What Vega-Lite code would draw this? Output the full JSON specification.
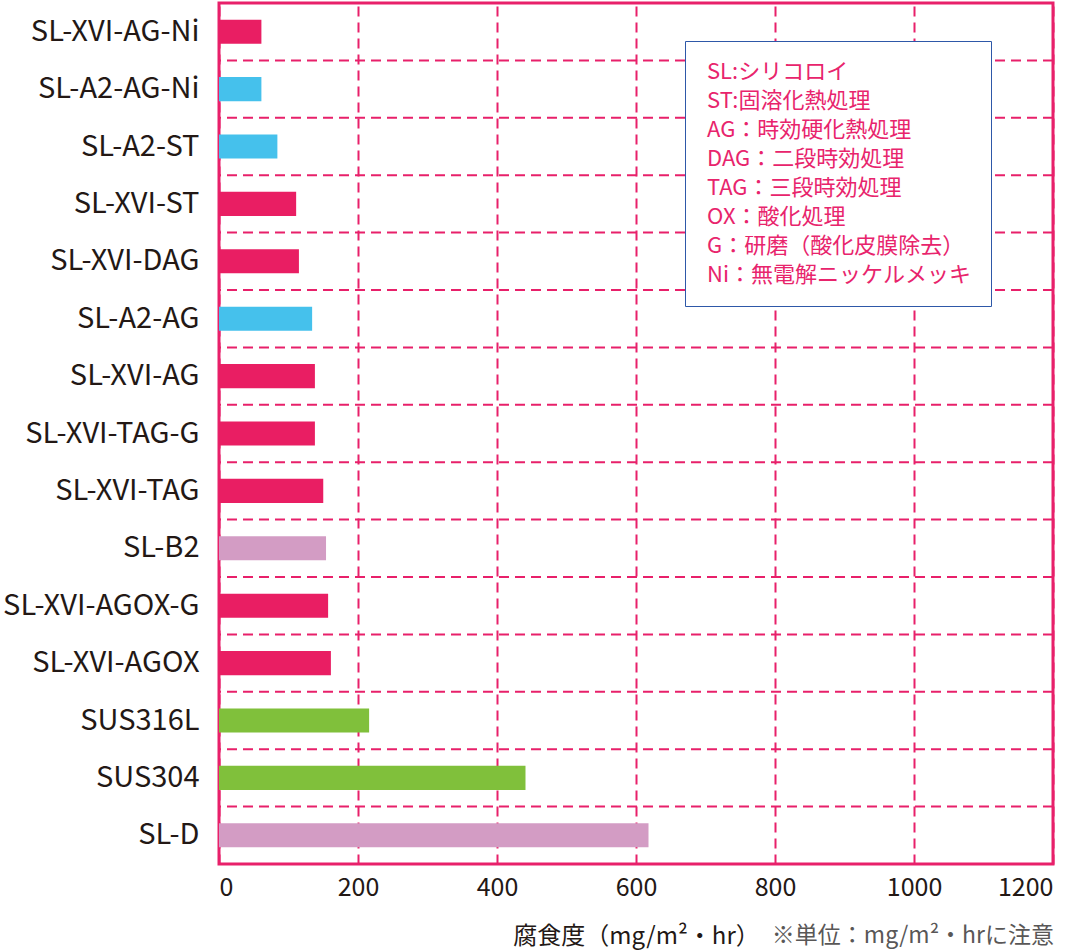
{
  "$schema": "https://vega.github.io/schema/vega-lite/v6.json",
  "width": 834,
  "height": 861,
  "autosize": {"type": "none"},
  "padding": {"left": 219, "top": 3, "right": 28, "bottom": 87},
  "background": "white",
  "config": {
    "font": "Noto Sans CJK JP",
    "view": {"stroke": "#e8206a", "strokeWidth": 3},
    "axis": {"labelColor": "#231815", "titleColor": "#231815", "labelFont": "Noto Sans CJK JP", "titleFont": "Noto Sans CJK JP"}
  },
  "title": {
    "text": "※単位：mg/m²・hrに注意",
    "orient": "bottom",
    "anchor": "end",
    "fontSize": 23,
    "fontWeight": "normal",
    "color": "#595757",
    "offset": -23
  },
  "datasets": {
    "bars": [
      {"name": "SL-XVI-AG-Ni", "group": "XVI", "rate": 61},
      {"name": "SL-A2-AG-Ni", "group": "A2", "rate": 61},
      {"name": "SL-A2-ST", "group": "A2", "rate": 84},
      {"name": "SL-XVI-ST", "group": "XVI", "rate": 111},
      {"name": "SL-XVI-DAG", "group": "XVI", "rate": 115},
      {"name": "SL-A2-AG", "group": "A2", "rate": 134},
      {"name": "SL-XVI-AG", "group": "XVI", "rate": 138},
      {"name": "SL-XVI-TAG-G", "group": "XVI", "rate": 138},
      {"name": "SL-XVI-TAG", "group": "XVI", "rate": 150},
      {"name": "SL-B2", "group": "other", "rate": 154},
      {"name": "SL-XVI-AGOX-G", "group": "XVI", "rate": 157},
      {"name": "SL-XVI-AGOX", "group": "XVI", "rate": 161},
      {"name": "SUS316L", "group": "SUS", "rate": 216},
      {"name": "SUS304", "group": "SUS", "rate": 441},
      {"name": "SL-D", "group": "other", "rate": 618}
    ],
    "notes": [
      {"note": "SL:シリコロイ"},
      {"note": "ST:固溶化熱処理"},
      {"note": "AG：時効硬化熱処理"},
      {"note": "DAG：二段時効処理"},
      {"note": "TAG：三段時効処理"},
      {"note": "OX：酸化処理"},
      {"note": "G：研磨（酸化皮膜除去）"},
      {"note": "Ni：無電解ニッケルメッキ"}
    ]
  },
  "layer": [
    {
      "data": {"name": "bars"},
      "mark": {"type": "rule", "color": "#e8206a", "strokeWidth": 2, "strokeDash": [10, 6]},
      "encoding": {
        "y": {"field": "name", "type": "nominal", "bandPosition": 0,
          "sort": ["SL-XVI-AG-Ni", "SL-A2-AG-Ni", "SL-A2-ST", "SL-XVI-ST", "SL-XVI-DAG", "SL-A2-AG", "SL-XVI-AG", "SL-XVI-TAG-G", "SL-XVI-TAG", "SL-B2", "SL-XVI-AGOX-G", "SL-XVI-AGOX", "SUS316L", "SUS304", "SL-D"]}
      }
    },
    {
      "data": {"name": "bars"},
      "mark": {"type": "bar", "height": {"band": 0.42}},
      "encoding": {
        "y": {
          "field": "name",
          "type": "nominal",
          "sort": ["SL-XVI-AG-Ni", "SL-A2-AG-Ni", "SL-A2-ST", "SL-XVI-ST", "SL-XVI-DAG", "SL-A2-AG", "SL-XVI-AG", "SL-XVI-TAG-G", "SL-XVI-TAG", "SL-B2", "SL-XVI-AGOX-G", "SL-XVI-AGOX", "SUS316L", "SUS304", "SL-D"],
          "scale": {"paddingInner": 0, "paddingOuter": 0},
          "axis": {"title": null, "ticks": false, "domain": false, "labelFontSize": 29, "labelPadding": 20, "labelLimit": 300}
        },
        "x": {
          "field": "rate",
          "type": "quantitative",
          "scale": {"domain": [0, 1200], "nice": false},
          "axis": {
            "values": [0, 200, 400, 600, 800, 1000, 1200],
            "format": "d",
            "title": "腐食度（mg/m²・hr）",
            "titleFontSize": 24,
            "titleFontWeight": "normal",
            "titlePadding": 24,
            "labelFontSize": 25,
            "labelPadding": 11,
            "ticks": false,
            "domain": false,
            "grid": true,
            "gridColor": "#e8206a",
            "gridWidth": 2,
            "gridDash": [10, 6]
          }
        },
        "color": {
          "field": "group",
          "type": "nominal",
          "scale": {"domain": ["XVI", "A2", "other", "SUS"], "range": ["#e91e63", "#45c1ec", "#d39cc4", "#80c03b"]},
          "legend": null
        }
      }
    },
    {
      "data": {"name": "notes"},
      "mark": {"type": "point", "opacity": 0},
      "encoding": {
        "shape": {
          "field": "note",
          "type": "nominal",
          "sort": null,
          "legend": {
            "title": null,
            "orient": "none",
            "legendX": 466,
            "legendY": 38,
            "padding": 20,
            "strokeColor": "#2e58a8",
            "fillColor": "white",
            "symbolSize": 0.01,
            "symbolOpacity": 0,
            "symbolStrokeWidth": 0,
            "labelOffset": -20,
            "labelFontSize": 22,
            "labelColor": "#e8246c",
            "labelFont": "Noto Sans CJK JP",
            "labelLimit": 400,
            "rowPadding": 7,
            "encode": {"legend": {"update": {"stroke": {"value": "#2e58a8"}, "strokeWidth": {"value": 2}, "fill": {"value": "white"}}}}
          }
        }
      }
    }
  ]
}
